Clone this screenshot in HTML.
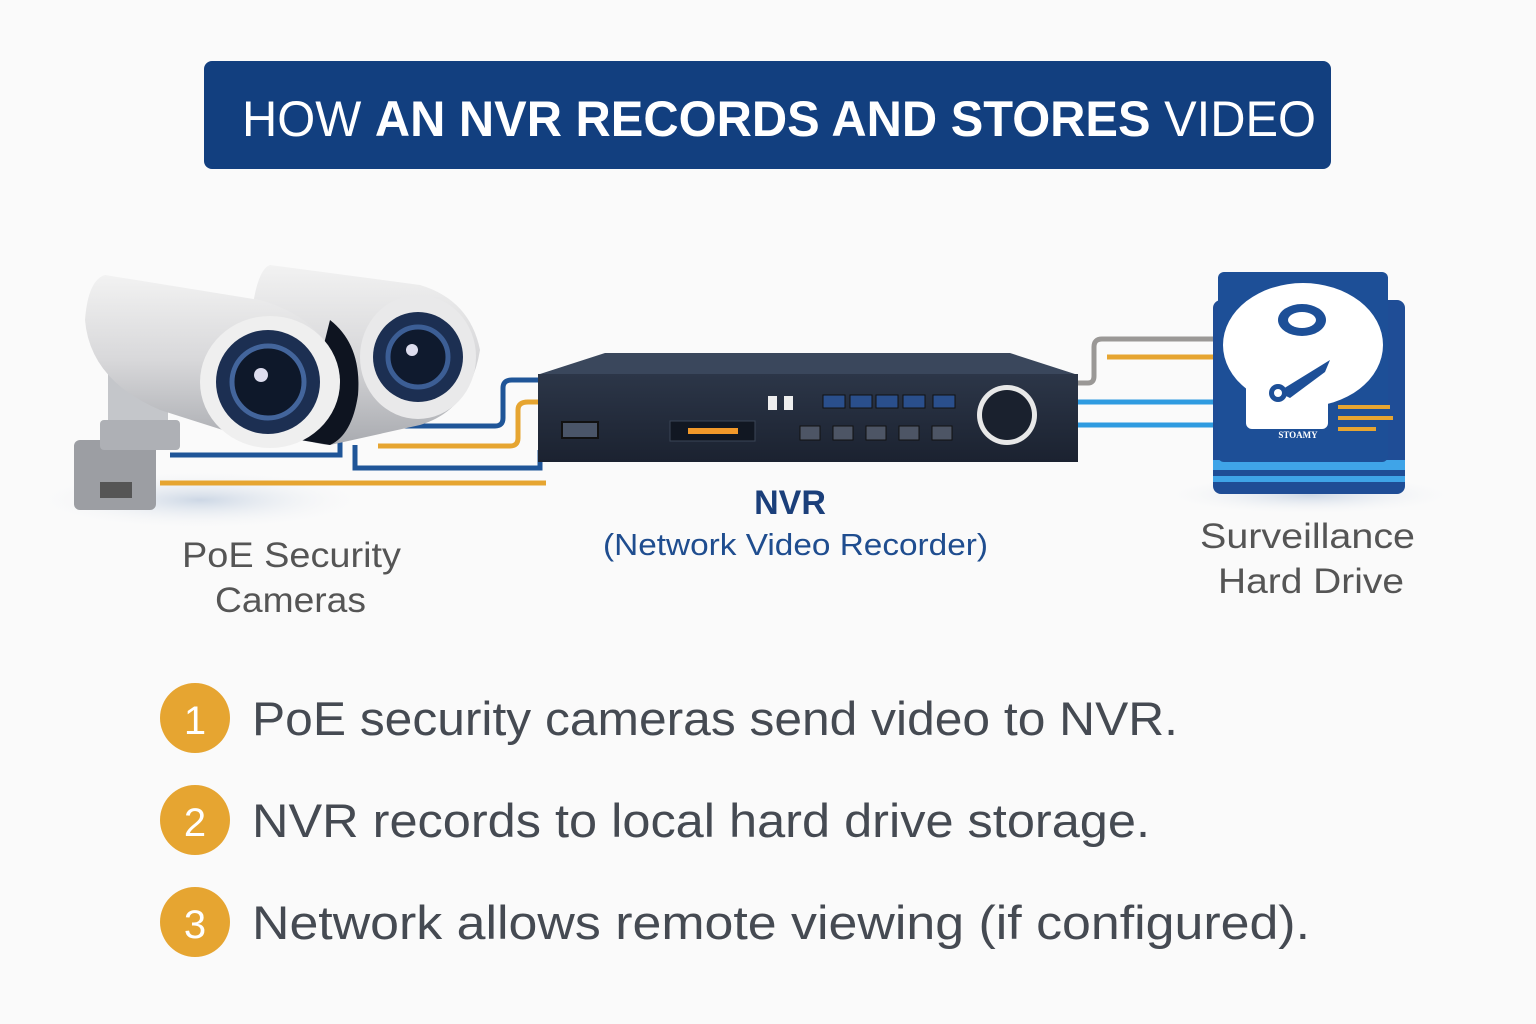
<!DOCTYPE html>
<html><head><meta charset="utf-8"><style>
html,body{margin:0;padding:0;background:#fafafa;}
svg{display:block;font-family:"Liberation Sans","DejaVu Sans",sans-serif;}
</style></head><body>
<svg width="1536" height="1024" viewBox="0 0 1536 1024" xmlns="http://www.w3.org/2000/svg">
<defs>
<radialGradient id="sh" cx="0.5" cy="0.5" r="0.5"><stop offset="0" stop-color="#b9c8dc" stop-opacity="0.7"/><stop offset="1" stop-color="#fafafa" stop-opacity="0"/></radialGradient>
<linearGradient id="cam" x1="0" y1="0" x2="0" y2="1"><stop offset="0" stop-color="#f2f2f2"/><stop offset="0.5" stop-color="#d8d8da"/><stop offset="1" stop-color="#a9abb0"/></linearGradient>
<linearGradient id="nvr" x1="0" y1="0" x2="0" y2="1"><stop offset="0" stop-color="#2c3648"/><stop offset="1" stop-color="#1b2230"/></linearGradient>
</defs>
<rect width="1536" height="1024" fill="#fafafa"/>
<rect x="204" y="61" width="1127" height="108" rx="8" fill="#123f7f"/>
<text x="242" y="136" font-size="50" fill="#fff" textLength="1074" lengthAdjust="spacingAndGlyphs"><tspan>HOW </tspan><tspan font-weight="bold">AN NVR RECORDS AND STORES</tspan><tspan> VIDEO</tspan></text>
<ellipse cx="200" cy="500" rx="170" ry="30" fill="url(#sh)"/>
<ellipse cx="1310" cy="495" rx="150" ry="20" fill="url(#sh)"/>
<g fill="none" stroke-width="5">
<path d="M160 483 H546" stroke="#e6a531"/>
<path d="M170 455 H340 V440" stroke="#1f5598"/>
<path d="M355 445 V468 H540 V450" stroke="#1f5598"/>
<path d="M378 446 H510 Q518 446 518 438 V410 Q518 402 528 402 H542" stroke="#e6a531"/>
<path d="M355 426 H495 Q503 426 503 418 V388 Q503 380 512 380 H542" stroke="#1f5598"/>
<path d="M1078 383 H1088 Q1094 383 1094 376 V347 Q1094 339 1102 339 H1220" stroke="#9a9896"/>
<path d="M1107 357 H1220" stroke="#e6a531"/>
<path d="M1078 402 H1220" stroke="#2f9be0"/>
<path d="M1078 425 H1220" stroke="#2f9be0"/>
</g>
<g>
<rect x="74" y="440" width="82" height="70" rx="6" fill="#9c9ea3"/>
<rect x="100" y="482" width="32" height="16" fill="#555"/>
<rect x="108" y="370" width="60" height="80" fill="#c4c6ca"/>
<rect x="100" y="420" width="80" height="30" rx="4" fill="#aeb0b5"/>
<path d="M270 265 L420 285 Q470 300 480 350 Q470 410 420 425 L330 445 Q255 440 250 330 Q255 270 270 265Z" fill="url(#cam)"/>
<ellipse cx="418" cy="357" rx="58" ry="62" fill="#e9e9ea"/>
<circle cx="418" cy="357" r="45" fill="#1c2f52"/>
<circle cx="418" cy="357" r="30" fill="#0f1a2e" stroke="#3c5e95" stroke-width="5"/>
<circle cx="412" cy="350" r="6" fill="#dde"/>
<path d="M330 320 Q362 345 358 395 Q352 435 330 445 L300 440Z" fill="#0e1420"/>
<path d="M105 275 L260 300 Q330 320 340 380 Q335 440 270 445 L160 410 Q90 380 85 320 Q88 280 105 275Z" fill="url(#cam)"/>
<ellipse cx="270" cy="382" rx="70" ry="66" fill="#efefef"/>
<circle cx="268" cy="382" r="52" fill="#1c2f52"/>
<circle cx="268" cy="382" r="36" fill="#0e182a" stroke="#43659c" stroke-width="5"/>
<circle cx="261" cy="375" r="7" fill="#dde"/>
</g>
<path d="M540 374 L605 353 L1010 353 L1078 375 Z" fill="#3a475c"/>
<rect x="538" y="374" width="540" height="88" fill="url(#nvr)"/>
<rect x="562" y="422" width="36" height="16" fill="#4a5568" stroke="#111" stroke-width="2"/>
<rect x="670" y="421" width="85" height="20" fill="#111722" stroke="#3a4456"/>
<rect x="688" y="428" width="50" height="6" fill="#f2992a"/>
<rect x="768" y="396" width="9" height="14" fill="#eee"/><rect x="784" y="396" width="9" height="14" fill="#eee"/>
<g fill="#2a4f8c" stroke="#111"><rect x="823" y="395" width="22" height="13"/><rect x="850" y="395" width="22" height="13"/><rect x="876" y="395" width="22" height="13"/><rect x="903" y="395" width="22" height="13"/><rect x="933" y="395" width="22" height="13"/></g>
<g fill="#4d5565" stroke="#111"><rect x="800" y="426" width="20" height="14"/><rect x="833" y="426" width="20" height="14"/><rect x="866" y="426" width="20" height="14"/><rect x="899" y="426" width="20" height="14"/><rect x="932" y="426" width="20" height="14"/></g>
<circle cx="1007" cy="415" r="30" fill="#e8e8e8"/>
<circle cx="1007" cy="415" r="25" fill="#1a212e"/>
<rect x="1213" y="300" width="192" height="194" rx="8" fill="#1f4d96"/>
<rect x="1213" y="460" width="192" height="10" fill="#3fa4e8"/>
<rect x="1213" y="476" width="192" height="6" fill="#3fa4e8"/>
<rect x="1218" y="272" width="170" height="190" rx="6" fill="#1d4f97"/>
<ellipse cx="1303" cy="345" rx="80" ry="62" fill="#fff"/>
<ellipse cx="1302" cy="320" rx="24" ry="16" fill="#1d4f97"/>
<ellipse cx="1302" cy="320" rx="14" ry="8" fill="#fff"/>
<rect x="1246" y="377" width="82" height="52" rx="6" fill="#fff"/>
<path d="M1278 392 L1330 360 L1325 372 L1290 398Z" fill="#1d4f97"/>
<circle cx="1278" cy="393" r="9" fill="#1d4f97"/><circle cx="1278" cy="393" r="4" fill="#fff"/>
<g fill="#e6a531"><rect x="1338" y="405" width="52" height="4"/><rect x="1338" y="416" width="55" height="4"/><rect x="1338" y="427" width="38" height="4"/></g>
<text x="1298" y="438" text-anchor="middle" font-size="9" font-weight="bold" fill="#fff" font-family="Liberation Serif,serif">STOAMY</text>
<g font-size="35" fill="#555">
<text x="182" y="567" textLength="219" lengthAdjust="spacingAndGlyphs">PoE Security</text>
<text x="215" y="612" textLength="151" lengthAdjust="spacingAndGlyphs">Cameras</text>
<text x="1200" y="548" textLength="215" lengthAdjust="spacingAndGlyphs">Surveillance</text>
<text x="1218" y="593" textLength="186" lengthAdjust="spacingAndGlyphs">Hard Drive</text>
</g>
<text x="790" y="514" text-anchor="middle" font-size="34" font-weight="bold" fill="#1b3f7a">NVR</text>
<text x="603" y="555" font-size="31" fill="#1f4d8f" textLength="385" lengthAdjust="spacingAndGlyphs">(Network Video Recorder)</text>
<g font-size="47" fill="#454a52">
<circle cx="195" cy="718" r="35" fill="#e6a531"/><text x="195" y="734" text-anchor="middle" fill="#fff" font-size="40">1</text>
<text x="252" y="735" textLength="926" lengthAdjust="spacingAndGlyphs">PoE security cameras send video to NVR.</text>
<circle cx="195" cy="820" r="35" fill="#e6a531"/><text x="195" y="836" text-anchor="middle" fill="#fff" font-size="40">2</text>
<text x="252" y="837" textLength="898" lengthAdjust="spacingAndGlyphs">NVR records to local hard drive storage.</text>
<circle cx="195" cy="922" r="35" fill="#e6a531"/><text x="195" y="938" text-anchor="middle" fill="#fff" font-size="40">3</text>
<text x="252" y="939" textLength="1058" lengthAdjust="spacingAndGlyphs">Network allows remote viewing (if configured).</text>
</g>
</svg>
</body></html>
